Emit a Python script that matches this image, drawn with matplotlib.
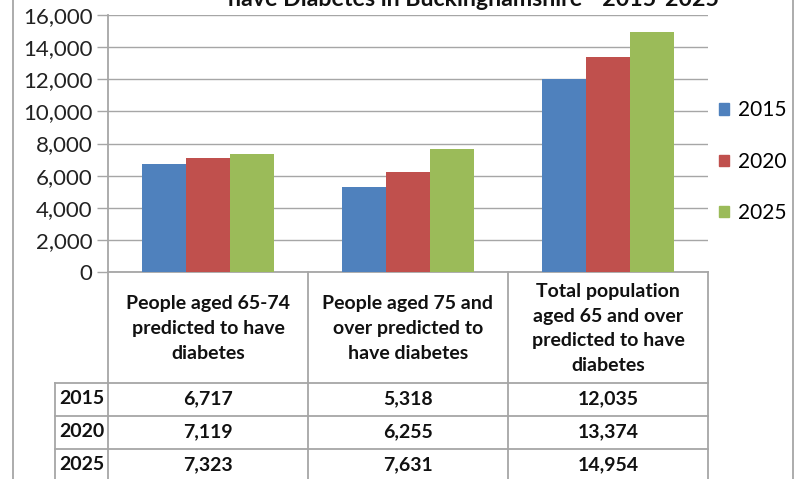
import numpy as np
import matplotlib
matplotlib.use("Agg")
import matplotlib.pyplot as plt
from matplotlib.patches import Patch

plt.rcParams['font.family'] = ['Lato', 'DejaVu Sans']

# data
categories = ["People aged 65-74\npredicted to have\ndiabetes",
              "People aged 75 and\nover predicted to\nhave diabetes",
              "Total population\naged 65 and over\npredicted to have\ndiabetes"]
years = ["2015", "2020", "2025"]
v2015 = [6717, 5318, 12035]
v2020 = [7119, 6255, 13374]
v2025 = [7323, 7631, 14954]
colors = ["#4F81BD", "#C0504D", "#9BBB59"]
title = "have Diabetes in Buckinghamshire - 2015-2025"

W, H = 796, 479
fig = plt.figure(figsize=(W / 100, H / 100), dpi=100)

# pixel helpers
def fx(px):
    return px / W
def fy(py):
    return 1 - py / H

gcol = "#A6A6A6"

# overlay axes in pixel coords for border and table
ov = fig.add_axes([0, 0, 1, 1], zorder=0)
ov.set_xlim(0, W)
ov.set_ylim(H, 0)
ov.axis("off")

x0, x1, y0, y1 = 108, 708, 272, 15
ax = fig.add_axes([fx(x0), fy(y0), fx(x1) - fx(x0), fy(y1) - fy(y0)], zorder=2)
ax.patch.set_alpha(0)

x = np.arange(len(categories))
w = 0.22
series = [v2015, v2020, v2025]
for i, (vals, c) in enumerate(zip(series, colors)):
    ax.bar(x + (i - 1) * w, vals, w, color=c, zorder=3)

ax.set_xlim(-0.5, 2.5)
ax.set_ylim(0, 16000)
ax.set_yticks(np.arange(0, 16001, 2000))
ax.set_yticklabels([f"{v:,}" for v in range(0, 16001, 2000)], fontsize=16)
ax.set_xticks([])
ax.grid(axis="y", color=gcol, linewidth=1, zorder=0)
ax.tick_params(axis="y", length=8, width=1, color=gcol, pad=3, labelcolor="#222222")
for s in ["top", "right"]:
    ax.spines[s].set_visible(False)
ax.spines["left"].set_color(gcol)
ax.spines["bottom"].set_color(gcol)
ax.spines["left"].set_linewidth(1.3)
ax.spines["bottom"].set_linewidth(1.3)

# legend
handles = [Patch(color=c, label=y) for c, y in zip(colors, years)]
fig.legend(handles=handles, loc="upper left", bbox_to_anchor=(fx(709), fy(90)),
           frameon=False, fontsize=15, handlelength=0.45, handleheight=0.45,
           handletextpad=0.45, labelspacing=1.5, borderpad=0)

# title (clipped at top, as in the source image)
fig.text(fx(474), fy(6), title, ha="center", va="baseline",
         fontsize=16.7, fontweight="bold", color="#111111")

# chart border
ov.plot([13, 13], [0, H], color=gcol, lw=1.3)
ov.plot([793, 793], [0, H], color=gcol, lw=1.3)

# data table
col_edges = [108, 308, 508, 708]
row_edges = [383, 416, 449, 482]
lc = gcol
for xe in col_edges:
    ov.plot([xe, xe], [y0, H], color=lc, lw=1.3)
ov.plot([55, 55], [row_edges[0], H], color=lc, lw=1.3)
for ye in row_edges[:-1]:
    ov.plot([55, 708], [ye, ye], color=lc, lw=1.3)

for j, cat in enumerate(categories):
    cx = (col_edges[j] + col_edges[j + 1]) / 2
    ov.text(cx, (y0 + row_edges[0]) / 2 + 1, cat, ha="center", va="center",
            fontsize=14, fontweight="bold", linespacing=1.55, color="#111111")
    for r, vals in enumerate(series):
        ov.text(cx, (row_edges[r] + row_edges[r + 1]) / 2 - 1, f"{vals[j]:,}",
                ha="center", va="center", fontsize=14, fontweight="bold",
                color="#111111")
for r, yr in enumerate(years):
    ov.text(59, (row_edges[r] + row_edges[r + 1]) / 2 - 1, yr, ha="left",
            va="center", fontsize=14, fontweight="bold", color="#111111")

fig.savefig("out.png", dpi=100)
